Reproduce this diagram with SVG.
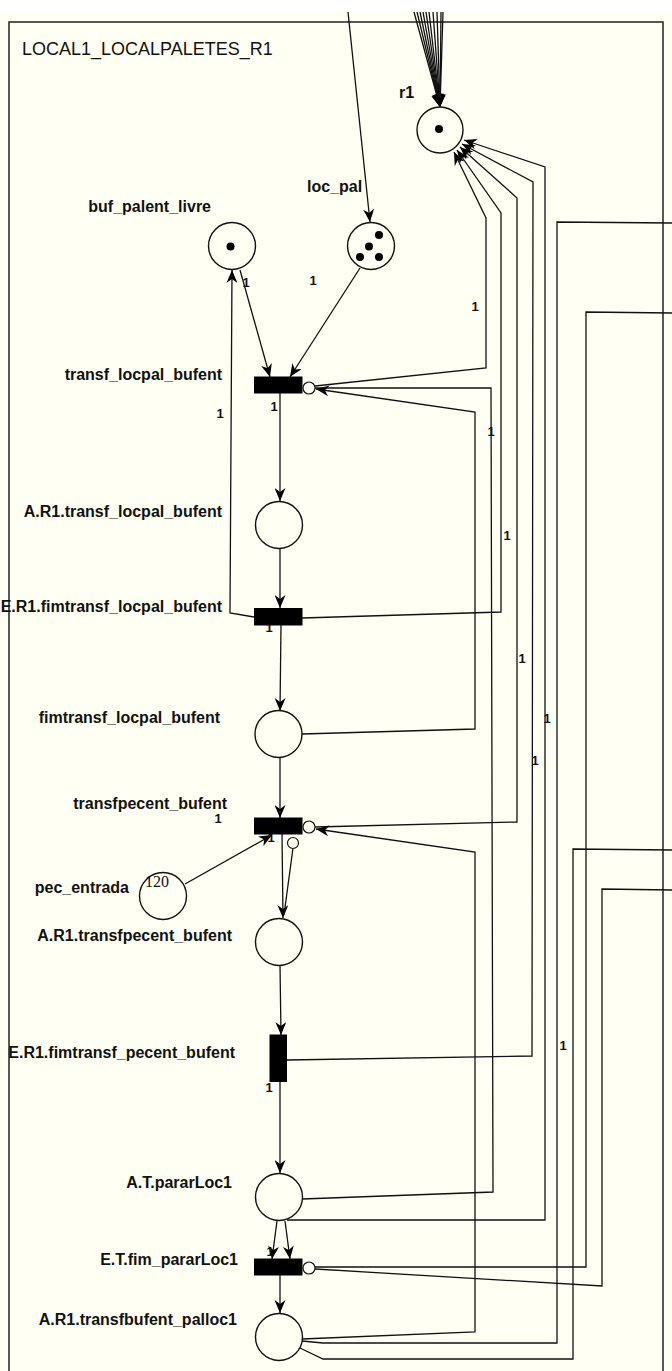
<svg xmlns="http://www.w3.org/2000/svg" width="672" height="1371" viewBox="0 0 672 1371">
<style>
.pl{fill:#fffff3;stroke:#111;stroke-width:1.4}
.tr{fill:#000;stroke:#000;stroke-width:1}
.tok{fill:#000}
.lbl{font-family:"Liberation Sans",Arial,sans-serif;font-weight:bold;font-size:16px;fill:#111}
.w{font-family:"Liberation Sans",Arial,sans-serif;font-weight:bold;font-size:13px;fill:#111;text-anchor:middle}
.c{fill:none;stroke:#111;stroke-width:1.3}
.ca{fill:none;stroke:#111;stroke-width:1.3;marker-end:url(#arr)}
.inh{fill:#fffff3;stroke:#111;stroke-width:1.2}
</style>
<defs>
<marker id="arr" viewBox="0 0 13 11" refX="13" refY="5.5" markerWidth="13" markerHeight="11" markerUnits="userSpaceOnUse" orient="auto">
<path d="M0,0 L13,5.5 L0,11 L4,5.5 z" fill="#000"/>
</marker>
</defs>
<rect x="0" y="0" width="672" height="1371" fill="#ffffff"/>
<rect x="0" y="12" width="672" height="1359" fill="#fffff3"/>
<g id="container">
<rect x="9" y="22" width="654" height="1400" fill="none" stroke="#222" stroke-width="1.5"/>
<text x="22" y="55" font-family="'Liberation Sans',Arial,sans-serif" font-size="18" fill="#111">LOCAL1_LOCALPALETES_R1</text>
</g>
<g id="connectors">
<line class="ca" x1="414" y1="12" x2="440" y2="107"/>
<line class="ca" x1="417" y1="12" x2="440" y2="107"/>
<line class="ca" x1="420" y1="12" x2="440" y2="107"/>
<line class="ca" x1="423" y1="12" x2="440" y2="107"/>
<line class="ca" x1="426" y1="12" x2="440" y2="107"/>
<line class="ca" x1="429" y1="12" x2="440" y2="107"/>
<line class="ca" x1="433" y1="12" x2="440" y2="107"/>
<line class="ca" x1="437" y1="12" x2="440" y2="107"/>
<line class="ca" x1="441" y1="12" x2="440" y2="107"/>
<line class="ca" x1="443" y1="12" x2="440" y2="107"/>
<line class="ca" x1="348" y1="12" x2="370" y2="222"/>
<line class="ca" x1="240" y1="270" x2="270" y2="377"/>
<line class="ca" x1="360" y1="268" x2="290" y2="377"/>
<line class="ca" x1="280" y1="393" x2="280" y2="501"/>
<line class="ca" x1="280" y1="548" x2="280" y2="608"/>
<line class="ca" x1="281" y1="625" x2="280" y2="711"/>
<line class="ca" x1="280" y1="757" x2="280" y2="818"/>
<line class="ca" x1="185" y1="884" x2="272" y2="835"/>
<line class="ca" x1="282" y1="834" x2="283" y2="918"/>
<line class="c" x1="293" y1="848" x2="284" y2="915"/>
<line class="ca" x1="280" y1="965" x2="281" y2="1035"/>
<line class="ca" x1="280" y1="1082" x2="280" y2="1173"/>
<line class="ca" x1="277" y1="1221" x2="272" y2="1259"/>
<line class="ca" x1="285" y1="1221" x2="290" y2="1259"/>
<line class="ca" x1="280" y1="1275" x2="280" y2="1313"/>
<polyline class="ca" points="254,617 230,613 232,270"/>
<polyline class="ca" points="315,386 486,368 486,218 454,152"/>
<polyline class="c" points="302,1199 493,1192 491,388 315,388"/>
<polyline class="ca" points="302,734 475,729 475,412 316,389"/>
<polyline class="ca" points="302,618 501,612 501,213 457,150"/>
<polyline class="ca" points="315,827 517,822 517,198 460,147"/>
<polyline class="ca" points="302,1339 475,1332 475,852 316,829"/>
<polyline class="ca" points="287,1060 532,1056 533,182 462,144"/>
<polyline class="ca" points="287,1220 545,1220 545,167 464,140"/>
<polyline class="c" points="302,1341 323,1343 557,1343 557,222 672,223"/>
<polyline class="c" points="300,1348 323,1359 573,1359 573,849 672,850"/>
<polyline class="c" points="315,1267 586,1267 586,312 672,313"/>
<polyline class="c" points="315,1269 602,1286 602,889 672,890"/>
<circle class="inh" cx="309" cy="388" r="6"/>
<circle class="inh" cx="309" cy="827" r="6"/>
<circle class="inh" cx="293" cy="843" r="5.5"/>
<circle class="inh" cx="309" cy="1268" r="6"/>
<text class="w" x="246" y="287">1</text>
<text class="w" x="313" y="285">1</text>
<text class="w" x="475" y="311">1</text>
<text class="w" x="220" y="418">1</text>
<text class="w" x="274" y="411">1</text>
<text class="w" x="491" y="436">1</text>
<text class="w" x="507" y="540">1</text>
<text class="w" x="269" y="632">1</text>
<text class="w" x="522" y="663">1</text>
<text class="w" x="547" y="723">1</text>
<text class="w" x="535" y="765">1</text>
<text class="w" x="218" y="823">1</text>
<text class="w" x="271" y="842">1</text>
<text class="w" x="269" y="1092">1</text>
<text class="w" x="563" y="1050">1</text>
<text class="w" x="270" y="1256">1</text>
</g>
<g id="r1">
<circle class="pl" cx="440" cy="130" r="23"/>
<circle class="tok" cx="439" cy="129" r="4"/>
<text class="lbl" x="399" y="98">r1</text>
</g>
<g id="loc_pal">
<circle class="pl" cx="371" cy="246" r="23.5"/>
<circle class="tok" cx="379" cy="235" r="4"/>
<circle class="tok" cx="369" cy="246.5" r="4"/>
<circle class="tok" cx="360" cy="257" r="4"/>
<circle class="tok" cx="379" cy="257" r="4"/>
<text class="lbl" x="307" y="192">loc_pal</text>
</g>
<g id="buf_palent_livre">
<circle class="pl" cx="232" cy="246" r="23.5"/>
<circle class="tok" cx="230.5" cy="246.5" r="4"/>
<text class="lbl" x="211" y="212" text-anchor="end">buf_palent_livre</text>
</g>
<g id="transf_locpal_bufent">
<rect class="tr" x="254.5" y="377" width="47.5" height="16"/>
<text class="lbl" x="222" y="380" text-anchor="end">transf_locpal_bufent</text>
</g>
<g id="A.R1.transf_locpal_bufent">
<circle class="pl" cx="279" cy="525" r="23.5"/>
<text class="lbl" x="222" y="517" text-anchor="end">A.R1.transf_locpal_bufent</text>
</g>
<g id="E.R1.fimtransf_locpal_bufent">
<rect class="tr" x="254.5" y="608.5" width="47.5" height="16.5"/>
<text class="lbl" x="222" y="612" text-anchor="end">E.R1.fimtransf_locpal_bufent</text>
</g>
<g id="fimtransf_locpal_bufent">
<circle class="pl" cx="278.5" cy="734" r="23.5"/>
<text class="lbl" x="220" y="723" text-anchor="end">fimtransf_locpal_bufent</text>
</g>
<g id="transfpecent_bufent">
<rect class="tr" x="254.5" y="818" width="47.5" height="16"/>
<text class="lbl" x="227" y="809" text-anchor="end">transfpecent_bufent</text>
</g>
<g id="pec_entrada">
<circle class="pl" cx="163" cy="896" r="23.5"/>
<text x="145" y="887" font-family="'Liberation Serif','Times New Roman',serif" font-size="16" fill="#111">120</text>
<text class="lbl" x="129" y="893" text-anchor="end">pec_entrada</text>
</g>
<g id="A.R1.transfpecent_bufent">
<circle class="pl" cx="279" cy="942" r="23.5"/>
<text class="lbl" x="232" y="941" text-anchor="end">A.R1.transfpecent_bufent</text>
</g>
<g id="E.R1.fimtransf_pecent_bufent">
<rect class="tr" x="270" y="1035" width="16.5" height="46.5"/>
<text class="lbl" x="235" y="1058" text-anchor="end">E.R1.fimtransf_pecent_bufent</text>
</g>
<g id="A.T.pararLoc1">
<circle class="pl" cx="279" cy="1197" r="23.5"/>
<text class="lbl" x="232" y="1188" text-anchor="end">A.T.pararLoc1</text>
</g>
<g id="E.T.fim_pararLoc1">
<rect class="tr" x="254.5" y="1259" width="47.5" height="16"/>
<text class="lbl" x="238" y="1265" text-anchor="end">E.T.fim_pararLoc1</text>
</g>
<g id="A.R1.transfbufent_palloc1">
<circle class="pl" cx="279" cy="1337" r="23.5"/>
<text class="lbl" x="237" y="1325" text-anchor="end">A.R1.transfbufent_palloc1</text>
</g>
</svg>
